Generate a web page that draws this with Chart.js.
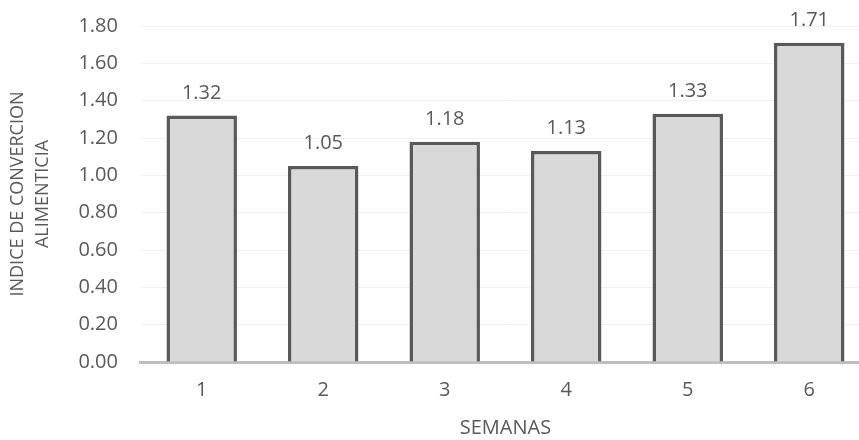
<!DOCTYPE html>
<html>
<head>
<meta charset="utf-8">
<script src="https://cdn.jsdelivr.net/npm/chart.js@4"></script>
<style>
  html, body { margin: 0; padding: 0; overflow: hidden; background: #fff; }
  #wrap { position: relative; top: -9px; width: 870px; height: 449px; }
</style>
</head>
<body>
<div id="wrap"><canvas id="chart"></canvas></div>
<script>
// weekly feed conversion index
const semanas = ["1", "2", "3", "4", "5", "6"];
const indice = [1.32, 1.05, 1.18, 1.13, 1.33, 1.71];
const yTitle = ["INDICE DE CONVERCION", "ALIMENTICIA"];
const xTitle = "SEMANAS";

const textGray = "#595959";
const fontFamily = "'Open Sans', sans-serif";

// value printed above each bar
const barLabels = {
  id: "barLabels",
  afterDatasetsDraw(chart) {
    const ctx = chart.ctx;
    const meta = chart.getDatasetMeta(0);
    ctx.save();
    ctx.font = "20px " + fontFamily;
    ctx.fillStyle = textGray;
    ctx.textAlign = "center";
    ctx.textBaseline = "alphabetic";
    meta.data.forEach((bar, i) => {
      ctx.fillText(indice[i].toFixed(2), bar.x, bar.y - 17);
    });
    ctx.restore();
  },
};

const canvas = document.getElementById("chart").getContext("2d");
const chartSetup = {
  type: "bar",
  data: {
    labels: semanas,
    datasets: [
      {
        data: indice,
        backgroundColor: "#d9d9d9",
        borderColor: "#595959",
        borderWidth: 3.5,
        categoryPercentage: 1,
        barPercentage: 0.58,
      },
    ],
  },
  options: {
    responsive: true,
    maintainAspectRatio: false,
    animation: false,
    layout: {
      padding: { top: 2, left: 5, right: 0, bottom: 0 },
    },
    plugins: {
      legend: { display: false },
      tooltip: { enabled: false },
    },
    scales: {
      x: {
        grid: { display: false },
        border: { color: "#bfbfbf", width: 3 },
        ticks: {
          color: textGray,
          font: { family: fontFamily, size: 20 },
          padding: 8,
        },
        title: {
          display: true,
          text: xTitle,
          color: textGray,
          font: { family: fontFamily, size: 20 },
          padding: { top: 6, bottom: 0 },
        },
      },
      y: {
        min: 0,
        max: 1.8,
        grid: { color: "#f0f0f0", lineWidth: 1, drawTicks: false },
        border: { display: false },
        ticks: {
          stepSize: 0.2,
          color: textGray,
          font: { family: fontFamily, size: 20 },
          padding: 23,
          callback: (v) => v.toFixed(2),
        },
        title: {
          display: true,
          text: yTitle,
          color: textGray,
          font: { family: fontFamily, size: 18, lineHeight: 1.4 },
          padding: { top: 0, bottom: 0 },
        },
      },
    },
  },
  plugins: [barLabels],
};
const myChart = new Chart(canvas, chartSetup);
</script>
</body>
</html>
